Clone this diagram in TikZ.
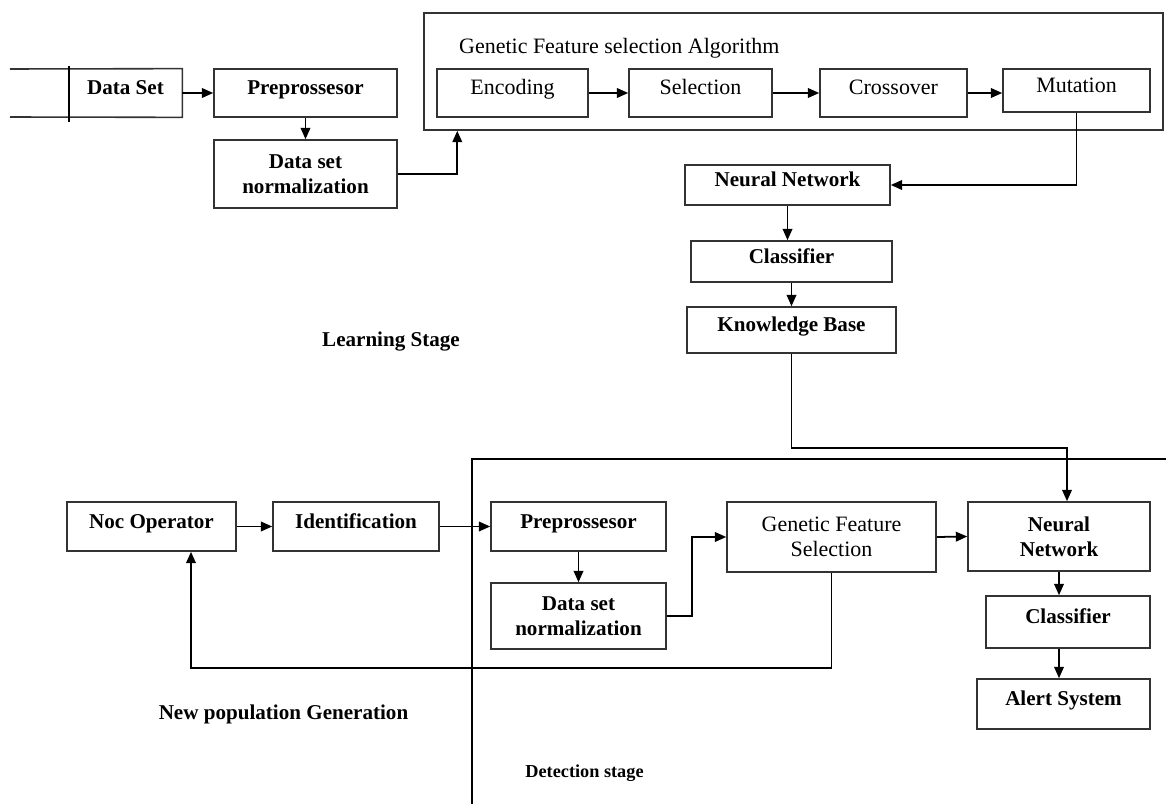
\documentclass[tikz,border=0pt]{standalone}
\usepackage{fontspec}
\setmainfont{Liberation Serif}
\usetikzlibrary{arrows.meta}

\begin{document}
\begin{tikzpicture}[x=0.02cm,y=-0.02cm,>={Triangle[length=6.5pt,width=5.5pt]},
    box/.style={draw=black!80,line width=0.9pt,align=center,inner sep=2pt,
      font=\fontsize{12}{14.2}\selectfont\bfseries},
    gabox/.style={box,font=\fontsize{12.5}{14.2}\selectfont},
    oneline/.style={text height=9pt,text depth=6.8pt},
    lbl/.style={font=\fontsize{12}{14.2}\selectfont\bfseries},
    link/.style={line width=1pt}]
  \useasboundingbox (0,0) rectangle (1166,804);

  % learning stage, input side
  \node[lbl,oneline,minimum width=2.26cm,minimum height=0.96cm] (dset) at (125.5,93) {Data Set};
  \draw[draw=black!80,line width=0.9pt] (10,69) -- (dset.north east) -- (dset.south east) -- (10,117);
  \draw[line width=0.9pt] (69,66) -- (69,122);
  \node[box,oneline,minimum width=3.66cm,minimum height=0.96cm] (prep1) at (305.5,93) {Preprossesor};
  \node[box,minimum width=3.66cm,minimum height=1.36cm] (norm1) at (305.5,174) {Data set\\normalization};

  % genetic feature selection algorithm
  \node[draw=black!80,line width=0.9pt,minimum width=14.78cm,minimum height=2.34cm] (ga) at (793.5,71.5) {};
  \node[font=\fontsize{12.5}{14.2}\selectfont,anchor=west] (gatitle) at (453,48) {Genetic Feature selection Algorithm};
  \node[gabox,oneline,minimum width=3.02cm,minimum height=0.96cm] (enc) at (512.5,93) {Encoding};
  \node[gabox,oneline,minimum width=2.86cm,minimum height=0.96cm] (sel) at (700.5,93) {Selection};
  \node[gabox,oneline,minimum width=2.94cm,minimum height=0.96cm] (cross) at (893.5,93) {Crossover};
  \node[gabox,oneline,minimum width=2.94cm,minimum height=0.86cm] (mut) at (1076.5,90.5) {Mutation};

  % classifier chain
  \node[box,oneline,minimum width=4.10cm,minimum height=0.80cm] (nn1) at (787.5,185) {Neural Network};
  \node[box,oneline,minimum width=4.02cm,minimum height=0.82cm] (cls1) at (791.5,261.5) {Classifier};
  \node[box,oneline,minimum width=4.18cm,minimum height=0.92cm] (kb) at (791.5,330) {Knowledge Base};
  \node[lbl] (learn) at (391,342) {Learning Stage};

  % detection stage
  \draw[line width=0.9pt] (472,804) -- (472,459) -- (1166,459);
  \node[box,oneline,minimum width=3.38cm,minimum height=0.98cm] (noc) at (151.5,526.5) {Noc Operator};
  \node[box,oneline,minimum width=3.32cm,minimum height=0.98cm] (ident) at (356,526.5) {Identification};
  \node[box,oneline,minimum width=3.50cm,minimum height=0.98cm] (prep2) at (578.5,526.5) {Preprossesor};
  \node[box,minimum width=3.50cm,minimum height=1.32cm] (norm2) at (578.5,616) {Data set\\normalization};
  \node[gabox,minimum width=4.18cm,minimum height=1.40cm] (gfs) at (831.5,537) {Genetic Feature\\Selection};
  \node[box,minimum width=3.64cm,minimum height=1.38cm] (nn2) at (1059,536.5) {Neural\\Network};
  \node[box,oneline,minimum width=3.28cm,minimum height=1.04cm] (cls2) at (1068,622) {Classifier};
  \node[box,oneline,minimum width=3.46cm,minimum height=1.00cm] (alert) at (1063.5,704) {Alert System};
  \node[lbl] (newpop) at (283.5,714) {New population Generation};
  \node[font=\fontsize{10.4}{12}\selectfont\bfseries] (detect) at (584.5,773) {Detection stage};

  % connectors, top
  \draw[link,->] (dset.east) -- (prep1.west);
  \draw[link,->] (prep1.south) -- (norm1.north);
  \draw[link,->] (norm1.east) -| ([xshift=0.68cm]ga.south west);
  \foreach \a/\b in {enc/sel,sel/cross,cross/mut}
    \draw[link,->] (\a.east) -- (\a.east -| \b.west);
  \draw[link,->] (mut.south) |- (nn1.east);
  \draw[link,->] (nn1.south) -- (nn1.south |- cls1.north);
  \draw[link,->] (cls1.south) -- (kb.north);
  \draw[link,->] (kb.south) -- ++(0,94) -| ([xshift=0.16cm]nn2.north);

  % connectors, bottom
  \draw[link,->] (noc.east) -- (ident.west);
  \draw[link,->] (ident.east) -- (prep2.west);
  \draw[link,->] (prep2.south) -- (norm2.north);
  \draw[link,->] (norm2.east) -- ++(25,0) |- (gfs.west);
  \draw[link,->] (gfs.east) -- (nn2.west);
  \draw[link,->] (nn2.south) -- (nn2.south |- cls2.north);
  \draw[link,->] (nn2.south |- cls2.south) -- (nn2.south |- alert.north);
  \draw[link,->] (gfs.south) -- ++(0,95) -| ([xshift=0.79cm]noc.south);
\end{tikzpicture}
\end{document}
